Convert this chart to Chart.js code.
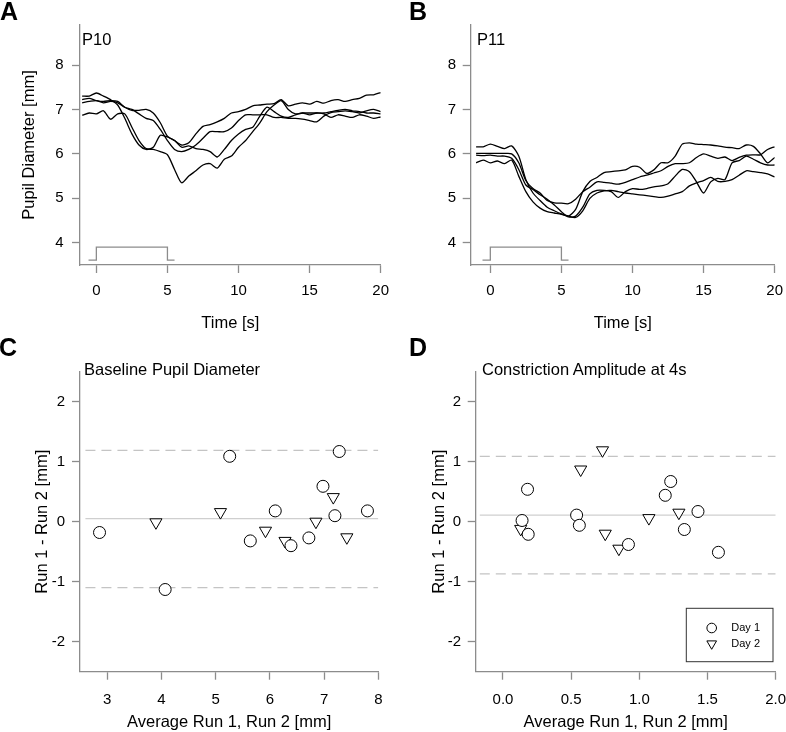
<!DOCTYPE html>
<html>
<head>
<meta charset="utf-8">
<script src="https://cdn.jsdelivr.net/npm/chart.js@4.4.0/dist/chart.umd.min.js"></script>
<style>
  body { margin: 0; width: 786px; height: 732px; overflow: hidden; background: #fff; position: relative;
         font-family: "Liberation Sans", Arial, sans-serif; }
  canvas { position: absolute; }
  .panel { position: absolute; font-weight: bold; font-size: 25px; line-height: 25px; }
  .sub { position: absolute; font-size: 16.5px; line-height: 16.5px; white-space: nowrap; }
</style>
</head>
<body>
<canvas id="chartA" width="393" height="340" style="left:0;top:0"></canvas>
<canvas id="chartB" width="393" height="340" style="left:393px;top:0"></canvas>
<canvas id="chartC" width="393" height="402" style="left:0;top:330px"></canvas>
<canvas id="chartD" width="393" height="402" style="left:393px;top:330px"></canvas>

<div class="panel" style="left:0;top:-1px">A</div>
<div class="panel" style="left:409px;top:-1px">B</div>
<div class="panel" style="left:-1px;top:335px">C</div>
<div class="panel" style="left:409px;top:335px">D</div>
<div class="sub" style="left:82px;top:31px">P10</div>
<div class="sub" style="left:477px;top:31px">P11</div>
<div class="sub" style="left:84px;top:361px">Baseline Pupil Diameter</div>
<div class="sub" style="left:482px;top:361px">Constriction Amplitude at 4s</div>

<script>
// time base of the pupil traces (s)
const timeS = [-1,-0.5,0,0.5,1,1.5,2,2.5,3,3.5,4,4.5,5,5.5,6,6.5,7,7.5,8,8.5,9,9.5,10,
               10.5,11,11.5,12,12.5,13,13.5,14,14.5,15,15.5,16,16.5,17,17.5,18,18.5,19,19.5,20];

// P10, pupil diameter (mm), four runs
const p10Run1 = [7.22,7.25,7.2,7.18,7.2,7.18,7.05,6.98,6.98,7.0,6.92,6.7,6.4,6.3,6.2,6.25,6.45,6.62,6.66,6.72,6.8,6.92,
                 6.95,7.0,7.08,7.1,7.12,7.13,7.22,7.08,7.12,7.15,7.12,7.18,7.14,7.2,7.22,7.18,7.22,7.25,7.32,7.33,7.38];
const p10Run2 = [7.3,7.3,7.37,7.3,7.22,7.1,6.8,6.45,6.2,6.1,6.15,6.42,6.38,6.3,6.15,6.18,6.12,6.1,6.05,5.93,6.1,6.3,
                 6.45,6.55,6.6,6.85,7.05,6.95,6.85,6.82,6.88,6.92,6.88,6.92,6.9,6.82,6.88,6.85,6.82,6.88,6.85,6.8,6.83];
const p10Run3 = [7.15,7.18,7.2,7.15,7.18,7.15,7.05,7.0,6.9,6.8,6.75,6.55,6.3,6.1,6.05,6.1,6.2,6.35,6.5,6.5,6.5,6.58,
                 6.75,6.88,6.88,6.88,6.88,6.82,6.82,6.8,6.8,6.78,6.75,6.72,6.85,6.93,6.95,6.97,6.95,6.92,6.97,7.0,6.95];
const p10Run4 = [6.87,6.92,6.9,6.97,6.78,6.9,6.9,6.6,6.3,6.12,6.1,6.05,5.98,5.65,5.35,5.5,5.62,5.75,5.78,5.68,5.88,5.95,
                 6.15,6.3,6.5,6.7,6.95,7.1,7.2,7.0,6.9,6.92,6.92,6.92,6.92,6.95,6.98,7.0,6.97,6.95,6.92,6.92,6.9];

// P11, pupil diameter (mm), four runs
const p11Run1 = [6.16,6.16,6.22,6.17,6.12,6.18,5.95,5.42,5.12,4.95,4.8,4.72,4.65,4.6,4.75,5.15,5.38,5.47,5.58,5.6,5.62,5.64,
                 5.72,5.7,5.56,5.64,5.8,5.8,5.95,6.22,6.25,6.22,6.21,6.2,6.18,6.15,6.14,6.12,6.2,6.17,6.0,5.8,5.92];
const p11Run2 = [6.01,6.01,6.01,6.01,6.01,6.0,5.8,5.4,5.22,5.12,4.95,4.9,4.89,4.88,4.98,5.15,5.25,5.37,5.36,5.34,5.32,5.36,
                 5.42,5.48,5.52,5.57,5.62,5.72,5.78,5.78,5.8,5.92,6.0,5.95,5.9,5.93,5.85,5.92,5.97,5.98,5.98,6.1,6.16];
const p11Run3 = [5.97,5.96,5.97,5.95,5.95,5.9,5.65,5.3,5.2,5.08,4.98,4.85,4.7,4.58,4.6,4.8,5.1,5.18,5.18,5.15,5.02,5.15,
                 5.22,5.2,5.22,5.26,5.28,5.33,5.5,5.65,5.6,5.37,5.12,5.37,5.45,5.42,5.8,5.85,5.95,5.88,5.8,5.75,5.75];
const p11Run4 = [5.8,5.86,5.8,5.84,5.78,5.86,5.5,5.15,4.92,4.78,4.7,4.67,4.64,4.6,4.57,4.72,5.0,5.12,5.17,5.18,5.15,5.12,
                 5.1,5.08,5.06,5.04,5.02,5.05,5.1,5.15,5.28,5.35,5.4,5.47,5.38,5.38,5.42,5.52,5.62,5.6,5.58,5.55,5.48];

// light stimulus marker (drawn on the same y scale)
const stimTime  = [-0.55, 0, 0, 5, 5, 5.5];
const stimLevel = [3.61, 3.61, 3.9, 3.9, 3.61, 3.61];

// Bland-Altman: baseline pupil diameter
const baseDay1X = [2.86,4.07,5.26,5.64,6.10,6.39,6.72,6.98,7.20,7.28,7.80];
const baseDay1Y = [-0.18,-1.13,1.09,-0.32,0.18,-0.40,-0.27,0.59,0.10,1.17,0.18];
const baseDay2X = [3.90,5.09,5.92,6.28,6.85,7.17,7.42];
const baseDay2Y = [-0.01,0.16,-0.15,-0.32,0.0,0.41,-0.26];
const baseLimits = [1.19, 0.05, -1.10];   // upper LoA, mean, lower LoA
const baseLineX = [2.6, 8.0];

// Bland-Altman: constriction amplitude at 4 s
const ampDay1X = [0.14,0.18,0.185,0.54,0.56,0.92,1.19,1.23,1.33,1.43,1.58];
const ampDay1Y = [0.02,0.54,-0.21,0.11,-0.06,-0.38,0.44,0.67,-0.13,0.17,-0.51];
const ampDay2X = [0.13,0.57,0.73,0.75,0.85,1.07,1.29];
const ampDay2Y = [-0.12,0.87,1.19,-0.20,-0.45,0.06,0.15];
const ampLimits = [1.09, 0.11, -0.87];
const ampLineX = [-0.17, 2.0];

Chart.defaults.font.family = '"Liberation Sans", Arial, sans-serif';
Chart.defaults.color = '#000';
const AXIS_GRAY = '#8c8c8c';

function rAxis(o) {
  return {
    type: 'linear',
    min: o.min,
    max: o.max,
    border: { display: true, color: AXIS_GRAY, width: 1.3 },
    grid: { drawOnChartArea: false, drawTicks: true, tickLength: 8, tickColor: AXIS_GRAY, tickWidth: 1.3 },
    ticks: { font: { size: 15 }, color: '#000', padding: o.pad, callback: o.fmt || (v => String(v)) },
    title: o.title
      ? { display: true, text: o.title, font: { size: 16.5 }, color: '#000', padding: o.titlePad }
      : { display: false },
    afterBuildTicks: s => { s.ticks = o.ticks.map(v => ({ value: v })); },
    afterFit: s => {
      if (s.isHorizontal()) s.height = o.size; else s.width = o.size;
      s.paddingLeft = s.paddingRight = s.paddingTop = s.paddingBottom = 0;
    }
  };
}

function traceChart(id, runs, xMin, yW, padRight, yTickPad, yTitle, yTitlePad) {
  let ds = runs.map(vals => ({
    data: timeS.map((t, i) => ({ x: t, y: vals[i] })),
    borderColor: '#000',
    borderWidth: 1.3,
    pointRadius: 0,
    tension: 0.25,
    order: 0
  }));
  ds.push({
    data: stimTime.map((t, i) => ({ x: t, y: stimLevel[i] })),
    borderColor: AXIS_GRAY,
    borderWidth: 1.3,
    pointRadius: 0,
    tension: 0,
    order: 1
  });

  new Chart(document.getElementById(id), {
    type: 'line',
    data: { datasets: ds },
    options: {
      responsive: false,
      animation: false,
      events: [],
      layout: { padding: { left: 0, top: 25, right: padRight, bottom: 0 } },
      plugins: { legend: { display: false }, tooltip: { enabled: false } },
      scales: {
        x: rAxis({ min: xMin, max: 20, ticks: [0, 5, 10, 15, 20], pad: 9, size: 75, title: 'Time [s]', titlePad: 7 }),
        y: rAxis({ min: 3.5, max: 8.9, ticks: [4, 5, 6, 7, 8], pad: yTickPad, size: yW, title: yTitle, titlePad: yTitlePad })
      }
    }
  });
}

// boxed legend in the lower right of the plot area
const boxLegend = {
  id: 'boxLegend',
  afterDraw(chart) {
    let ctx = chart.ctx, a = chart.chartArea;
    let x0 = a.right - 89.4, y0 = a.bottom - 63.4;
    ctx.save();
    ctx.strokeStyle = '#333';
    ctx.lineWidth = 1;
    ctx.strokeRect(x0, y0, 86.7, 53.4);
    let items = chart.data.datasets.filter(d => d.label);
    items.forEach((d, i) => {
      let y = y0 + 19.7 + i * 15.7;
      ctx.fillStyle = '#fff';
      ctx.strokeStyle = '#000';
      ctx.lineWidth = 1;
      Chart.helpers.drawPoint(ctx, { pointStyle: d.pointStyle, radius: d.pointRadius * 0.8,
        rotation: d.pointRotation || 0, borderWidth: 1 }, x0 + 25.4, y);
      ctx.fillStyle = '#000';
      ctx.font = '11px "Liberation Sans", Arial, sans-serif';
      ctx.textBaseline = 'middle';
      ctx.fillText(d.label, x0 + 45, y);
    });
    ctx.restore();
  }
};

function baChart(id, d1x, d1y, d2x, d2y, limits, lineX, x, yW, yTickPad, yTitlePad, padRight, legend) {
  let pts = (xs, ys) => xs.map((v, i) => ({ x: v, y: ys[i] }));
  let ds = [
    { label: 'Day 1', data: pts(d1x, d1y), pointStyle: 'circle', pointRadius: 6,
      borderColor: '#000', backgroundColor: '#fff', borderWidth: 1, order: 0 },
    { label: 'Day 2', data: pts(d2x, d2y), pointStyle: 'triangle', pointRotation: 180, pointRadius: 7,
      borderColor: '#000', backgroundColor: '#fff', borderWidth: 1, order: 0 }
  ];
  limits.forEach((v, i) => {
    ds.push({
      data: [{ x: lineX[0], y: v }, { x: lineX[1], y: v }],
      showLine: true,
      borderColor: i === 1 ? '#cfcfcf' : '#c4c4c4',
      borderWidth: 1.3,
      borderDash: i === 1 ? [] : [10, 6],
      pointRadius: 0,
      order: 1
    });
  });

  new Chart(document.getElementById(id), {
    type: 'scatter',
    data: { datasets: ds },
    options: {
      responsive: false,
      animation: false,
      events: [],
      layout: { padding: { left: 0, top: 41.7, right: padRight, bottom: 0 } },
      plugins: { legend: { display: false }, tooltip: { enabled: false } },
      scales: {
        x: rAxis(Object.assign({ pad: 11, size: 60.3, title: 'Average Run 1, Run 2 [mm]', titlePad: 0 }, x)),
        y: rAxis({ min: -2.5, max: 2.5, ticks: [-2, -1, 0, 1, 2], pad: yTickPad, size: yW,
                   title: 'Run 1 - Run 2 [mm]', titlePad: yTitlePad })
      }
    },
    plugins: legend ? [boxLegend] : []
  });
}

traceChart('chartA', [p10Run1, p10Run2, p10Run3, p10Run4], -1.15, 80, 12.3, 8.5, 'Pupil Diameter [mm]', 20);
traceChart('chartB', [p11Run1, p11Run2, p11Run3, p11Run4], -1.38, 77.7, 11.3, 6.5, null, 0);

baChart('chartC', baseDay1X, baseDay1Y, baseDay2X, baseDay2Y, baseLimits, baseLineX,
        { min: 2.5, max: 8, ticks: [3, 4, 5, 6, 7, 8] }, 80, 7, 33, 14.7, false);
baChart('chartD', ampDay1X, ampDay1Y, ampDay2X, ampDay2Y, ampLimits, ampLineX,
        { min: -0.2, max: 2.0, ticks: [0, 0.5, 1, 1.5, 2], fmt: v => v.toFixed(1) }, 82.7, 6.5, 36.8, 10.3, true);
</script>
</body>
</html>
